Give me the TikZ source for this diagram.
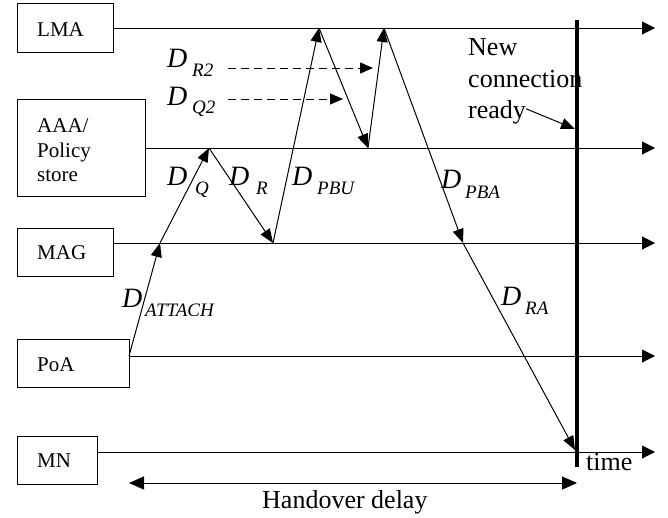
\documentclass[tikz,border=0pt]{standalone}
\usepackage{fontspec}
\setmainfont{Liberation Serif}
\usetikzlibrary{arrows.meta}
\begin{document}
\begin{tikzpicture}[x=1pt,y=-1pt,
  box/.style={draw, line width=1.2pt, anchor=north west, inner sep=0pt},
  blabel/.style={anchor=base west, inner sep=0pt, font=\fontsize{21}{24}\selectfont},
  tl/.style={line width=1pt, -{Triangle[length=13pt,width=13pt]}},
  msg/.style={line width=1pt, -{Triangle[length=14pt,width=11pt]}},
  dsh/.style={line width=1pt, dash pattern=on 8pt off 5pt, -{Triangle[length=13pt,width=11pt]}},
  dbig/.style={anchor=base west, inner sep=0pt, font=\fontsize{28}{30}\selectfont\itshape},
  dsub/.style={anchor=base west, inner sep=0pt, font=\fontsize{19}{21}\selectfont\itshape},
  big/.style={anchor=base west, inner sep=0pt, font=\fontsize{26}{30}\selectfont}]
\useasboundingbox (0,0) rectangle (668,517);
% boxes
\node[box, minimum width=96pt, minimum height=49pt] (lma) at (17,3) {};
\node[box, minimum width=128pt, minimum height=97pt] (aaa) at (17,99) {};
\node[box, minimum width=96pt, minimum height=48pt] (mag) at (17,228) {};
\node[box, minimum width=112pt, minimum height=48pt] (poa) at (17,339) {};
\node[box, minimum width=80pt, minimum height=48pt] (mn) at (17,436) {};
% box labels
\node[blabel] (tlma) at (37,36) {LMA};
\node[blabel] (taaa1) at (37,132) {AAA/};
\node[blabel] (taaa2) at (37,157) {Policy};
\node[blabel] (taaa3) at (37,181) {store};
\node[blabel] (tmag) at (37,259) {MAG};
\node[blabel] (tpoa) at (37,371) {PoA};
\node[blabel] (tmn) at (37,467) {MN};
% timeline ends
\coordinate (lmaR) at (655,28);
\coordinate (aaaR) at (655,148);
\coordinate (magR) at (655,243);
\coordinate (poaR) at (655,356);
\coordinate (mnR) at (655,452);
\draw[tl] (lma.east |- lmaR) -- (lmaR);
\draw[tl] (aaa.east |- aaaR) -- (aaaR);
\draw[tl] (mag.east |- magR) -- (magR);
\draw[tl] (poa.east |- poaR) -- (poaR);
\draw[tl] (mn.east |- mnR) -- (mnR);
% message points
\coordinate (p0) at (129,356);
\coordinate (p1) at (160,243);
\coordinate (p2) at (209,148);
\coordinate (p3) at (273,243);
\coordinate (p4) at (319,28);
\coordinate (p5) at (368,148);
\coordinate (p6) at (384,28);
\coordinate (p7) at (463,243);
\coordinate (p8) at (575,450);
\draw[msg] (p0) -- (p1);
\draw[msg] (p1) -- (p2);
\draw[msg] (p2) -- (p3);
\draw[msg] (p3) -- (p4);
\draw[msg] (p4) -- (p5);
\draw[msg] (p5) -- (p6);
\draw[msg] (p6) -- (p7);
\draw[msg] (p7) -- (p8);
% dashed
\coordinate (r2a) at (228,68);
\coordinate (r2b) at (373,68);
\coordinate (q2a) at (228,99);
\coordinate (q2b) at (343,99);
\draw[dsh] (r2a) -- (r2b);
\draw[dsh] (q2a) -- (q2b);
% labels
\node[dbig] (dq) at (167,185) {D};
\node[dsub] (dqs) at (195,194) {Q};
\node[dbig] (dr) at (229,185) {D};
\node[dsub] (drs) at (256,194) {R};
\node[dbig] (dpbu) at (292,185) {D};
\node[dsub] (dpbus) at (317,194) {PBU};
\node[dbig] (dpba) at (441,188) {D};
\node[dsub] (dpbas) at (465,198) {PBA};
\node[dbig] (dra) at (501,305) {D};
\node[dsub] (dras) at (525,314) {RA};
\node[dbig] (dr2) at (167,67) {D};
\node[dsub] (dr2s) at (192,76) {R2};
\node[dbig] (dq2) at (167,105) {D};
\node[dsub] (dq2s) at (192,113) {Q2};
\node[dbig] (dat) at (122,307) {D};
\node[dsub] (dats) at (145,316) {ATTACH};
% thick time line
\coordinate (tt) at (577,20);
\coordinate (tb) at (577,467);
\draw[line width=4pt] (tt) -- (tb);
\node[big] (ncA) at (468,55) {New};
\node[big] (ncB) at (468,87) {connection};
\node[big] (ncC) at (468,118) {ready};
\coordinate (ncT) at (575,129);
\draw[msg] (ncC.east) ++(0,-3) -- (ncT);
\node[big] (time) at (586,470) {time};
% handover delay
\coordinate (hl) at (129,483);
\coordinate (hr) at (577,483);
\draw[line width=1pt, {Triangle[length=15pt,width=13pt]}-{Triangle[length=15pt,width=13pt]}] (hl) -- (hr);
\node[big] (hd) at (262,508) {Handover delay};
\end{tikzpicture}
\end{document}
